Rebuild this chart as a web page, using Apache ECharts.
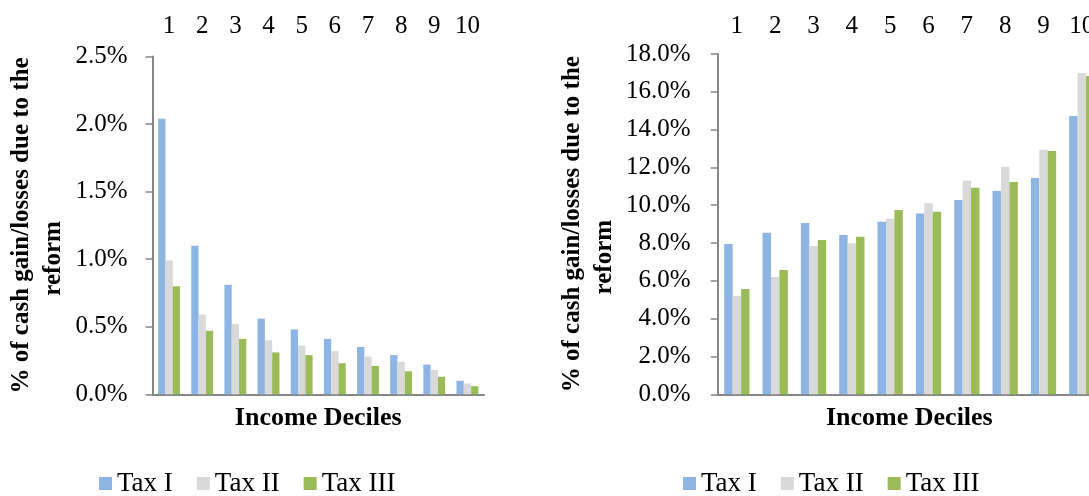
<!DOCTYPE html>
<html>
<head>
<meta charset="utf-8">
<title>Cash gains/losses by income decile</title>
<script src="https://cdn.jsdelivr.net/npm/echarts@6/dist/echarts.min.js"></script>
<style>
  html, body { margin: 0; padding: 0; background: #ffffff; }
  #chart { width: 1089px; height: 496px; }
</style>
</head>
<body>
<div id="chart"></div>
<script>
// Income deciles (category axis)
const deciles = ['1', '2', '3', '4', '5', '6', '7', '8', '9', '10'];
const seriesNames = ['Tax I', 'Tax II', 'Tax III'];

// Left panel: % of cash gain/losses, scale 0–2.5%
const leftTaxI   = [2.04, 1.10, 0.81, 0.56, 0.48, 0.41, 0.35, 0.29, 0.22, 0.10];
const leftTaxII  = [0.99, 0.59, 0.52, 0.40, 0.36, 0.32, 0.28, 0.24, 0.18, 0.08];
const leftTaxIII = [0.80, 0.47, 0.41, 0.31, 0.29, 0.23, 0.21, 0.17, 0.13, 0.06];

// Right panel: % of cash gain/losses, scale 0–18%
const rightTaxI   = [7.95, 8.55, 9.06, 8.43, 9.13, 9.56, 10.28, 10.76, 11.44, 14.72];
const rightTaxII  = [5.20, 6.20, 7.85, 7.99, 9.28, 10.10, 11.29, 12.04, 12.94, 17.00];
const rightTaxIII = [5.57, 6.58, 8.16, 8.34, 9.75, 9.65, 10.92, 11.23, 12.87, 16.84];

// Value-axis settings
const leftAxisMax = 2.5, leftAxisStep = 0.5;
const rightAxisMax = 18, rightAxisStep = 2;

const colors = ['#8DB4E2', '#D9D9D9', '#9BBB59'];
const FONT = '"Liberation Serif", "Times New Roman", serif';
const axisGray = '#868686';

// Two-line axis title; the second line sits a little further down the axis
const yTitle = '{a|% of cash gain/losses due to the}\n{b|reform}';
const titleFont = { fontFamily: FONT, fontSize: 25, fontWeight: 'bold', color: '#000', lineHeight: 32 };

function bottomAxis(gridIndex) {
  return {
    type: 'category', gridIndex, position: 'bottom', data: deciles,
    axisLine: { show: true, lineStyle: { color: axisGray, width: 2 } },
    axisTick: { show: false },
    axisLabel: { show: false },
    name: 'Income Deciles',
    nameLocation: 'middle',
    nameGap: 11,
    nameMoveOverlap: false,
    nameTextStyle: { fontFamily: FONT, fontSize: 26, fontWeight: 'bold', color: '#000', verticalAlign: 'top' }
  };
}

function topAxis(gridIndex, margin) {
  return {
    type: 'category', gridIndex, position: 'top', data: deciles,
    axisLine: { show: false },
    axisTick: { show: false },
    axisLabel: { show: true, interval: 0, margin, fontFamily: FONT, fontSize: 25, color: '#000' }
  };
}

function valueAxis(gridIndex, max, step, labelMargin, nameGap) {
  return {
    type: 'value', gridIndex, min: 0, max, interval: step,
    axisLine: { show: true, lineStyle: { color: axisGray, width: 2 } },
    axisTick: { show: true, inside: false, length: 7, lineStyle: { color: axisGray, width: 1.5 } },
    splitLine: { show: false },
    axisLabel: {
      margin: labelMargin, fontFamily: FONT, fontSize: 25, color: '#000',
      formatter: v => v.toFixed(1) + '%'
    },
    name: yTitle,
    nameLocation: 'middle',
    nameGap,
    nameMoveOverlap: false,
    nameTextStyle: Object.assign({}, titleFont, {
      rich: {
        a: Object.assign({}, titleFont),
        b: Object.assign({}, titleFont, { padding: [0, 66, 0, 0] })
      }
    })
  };
}

function bars(name, data, idx, axisIdx) {
  return {
    type: 'bar', name, data,
    xAxisIndex: axisIdx, yAxisIndex: axisIdx,
    barGap: '0%', barCategoryGap: '34%',
    itemStyle: { color: colors[idx] },
    emphasis: { disabled: true }
  };
}

function legendAt(left) {
  return {
    data: seriesNames, left, top: 470, padding: 0, orient: 'horizontal',
    icon: 'rect', itemWidth: 13, itemHeight: 13, itemGap: 24,
    selectedMode: false,
    textStyle: { fontFamily: FONT, fontSize: 27, color: '#000' }
  };
}

const chart = echarts.init(document.getElementById('chart'), null, { renderer: 'canvas' });

chart.setOption({
  animation: false,
  backgroundColor: '#ffffff',
  textStyle: { fontFamily: FONT },
  grid: [
    { left: 152.5, top: 56.5, right: 605, bottom: 101.7, outerBoundsMode: 'none', containLabel: false },
    { left: 717.7, top: 54, right: -12, bottom: 101.7, outerBoundsMode: 'none', containLabel: false }
  ],
  xAxis: [
    bottomAxis(0),   // index 0: left baseline
    bottomAxis(1),   // index 1: right baseline
    topAxis(0, 18),  // index 2: left decile labels
    topAxis(1, 15.5) // index 3: right decile labels
  ],
  yAxis: [
    valueAxis(0, leftAxisMax, leftAxisStep, 25, 83),
    valueAxis(1, rightAxisMax, rightAxisStep, 27, 97)
  ],
  legend: [legendAt(99), legendAt(683)],
  series: [
    bars('Tax I', leftTaxI, 0, 0),
    bars('Tax II', leftTaxII, 1, 0),
    bars('Tax III', leftTaxIII, 2, 0),
    bars('Tax I', rightTaxI, 0, 1),
    bars('Tax II', rightTaxII, 1, 1),
    bars('Tax III', rightTaxIII, 2, 1)
  ]
});
</script>
</body>
</html>
